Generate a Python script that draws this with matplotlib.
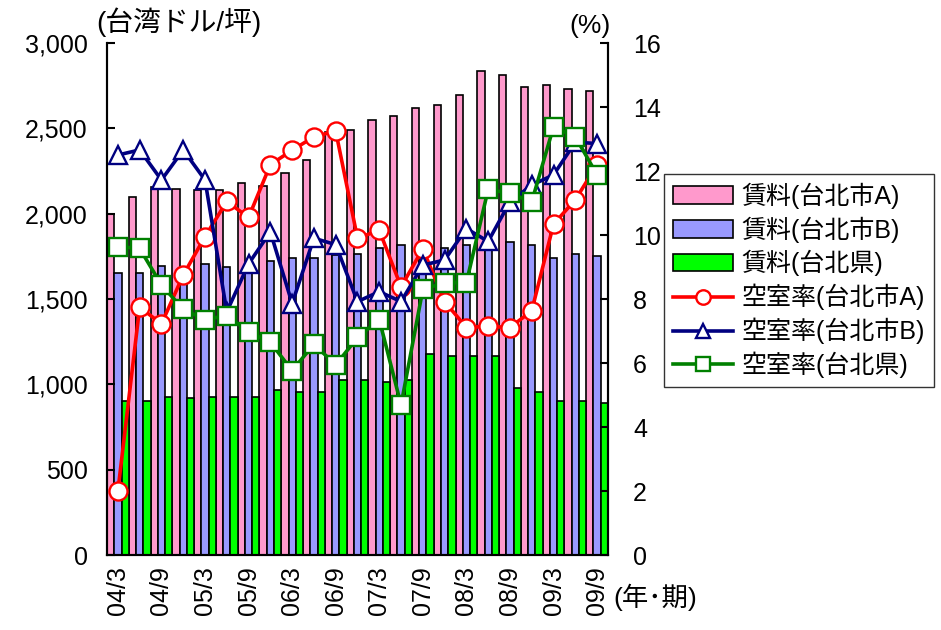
import matplotlib
matplotlib.use("Agg")
import matplotlib.pyplot as plt
import numpy as np

plt.rcParams['font.family'] = ['Liberation Sans', 'Noto Sans CJK JP']

# quarterly periods 2004/3 .. 2009/9
periods = ["04/3", "04/6", "04/9", "04/12", "05/3", "05/6", "05/9", "05/12",
           "06/3", "06/6", "06/9", "06/12", "07/3", "07/6", "07/9", "07/12",
           "08/3", "08/6", "08/9", "08/12", "09/3", "09/6", "09/9"]

# rent (NT$ / ping)
rent_a = [2000, 2100, 2155, 2145, 2140, 2140, 2180, 2165, 2240, 2315, 2480, 2490,
          2550, 2575, 2620, 2635, 2695, 2835, 2815, 2740, 2755, 2730, 2720]
rent_b = [1655, 1655, 1695, 1680, 1705, 1685, 1700, 1720, 1740, 1740, 1760, 1765,
          1800, 1815, 1790, 1800, 1815, 1810, 1835, 1815, 1740, 1765, 1755]
rent_county = [905, 905, 928, 918, 928, 928, 928, 967, 953, 953, 1025, 1025,
               1015, 1025, 1180, 1165, 1165, 1165, 980, 953, 905, 905, 893]

# vacancy rate (%)
vac_a = [2.0, 7.75, 7.22, 8.75, 9.95, 11.05, 10.55, 12.2, 12.65, 13.07, 13.25, 9.9,
         10.15, 8.38, 9.57, 7.92, 7.11, 7.15, 7.11, 7.63, 10.34, 11.1, 12.2]
vac_b = [12.5, 12.66, 11.72, 12.66, 11.72, 7.6, 9.1, 10.1, 7.86, 9.9, 9.7, 7.92,
         8.23, 7.92, 9.06, 9.22, 10.2, 9.8, 11.04, 11.56, 11.88, 12.9, 12.86]
vac_county = [9.64, 9.58, 8.44, 7.68, 7.36, 7.48, 6.98, 6.65, 5.76, 6.59, 5.94, 6.8,
              7.36, 4.69, 8.3, 8.51, 8.51, 11.43, 11.3, 11.04, 13.38, 13.07, 11.88]

x = np.arange(len(periods))
w = 1 / 3

fig = plt.figure(figsize=(9.41, 6.3), dpi=100)
ax = fig.add_axes([0.1137, 0.119, 0.5324, 0.8127])
ax2 = ax.twinx()

bar_kw = dict(width=w, edgecolor="black", linewidth=1.2)
b1 = ax.bar(x - w, rent_a, color="#FF99CC", label="賃料(台北市A)", **bar_kw)
b2 = ax.bar(x, rent_b, color="#9999FF", label="賃料(台北市B)", **bar_kw)
b3 = ax.bar(x + w, rent_county, color="#00FF00", label="賃料(台北県)", **bar_kw)

line_kw = dict(linewidth=2.6, markersize=13, markeredgewidth=1.7, markerfacecolor="white")
l1, = ax2.plot(x, vac_a, color="#FF0000", marker="o", markeredgecolor="#FF0000",
               label="空室率(台北市A)", **line_kw)
l2, = ax2.plot(x, vac_b, color="#000080", marker="^", markeredgecolor="#000080",
               label="空室率(台北市B)", **line_kw)
l3, = ax2.plot(x, vac_county, color="#008000", marker="s", markeredgecolor="#008000",
               label="空室率(台北県)", **line_kw)

ax.set_xlim(-0.5, len(periods) - 0.5)
ax.set_ylim(0, 3000)
ax2.set_ylim(0, 16)
ax.set_yticks(np.arange(0, 3001, 500))
ax.set_yticklabels([f"{v:,}" for v in range(0, 3001, 500)])
ax2.set_yticks(np.arange(0, 17, 2))

ax.set_xticks(x[::2])
ax.set_xticklabels(periods[::2], rotation=90)
ax.tick_params(axis="x", length=0, pad=8, labelsize=18)
ax.tick_params(axis="y", direction="in", length=6, width=1.5, pad=14, labelsize=18)
ax2.tick_params(axis="y", direction="in", length=6, width=1.5, pad=18, labelsize=18)

for a in (ax, ax2):
    a.spines["top"].set_visible(False)
    for s in ("left", "right", "bottom"):
        a.spines[s].set_linewidth(1.5)

fig.text(0.102, 0.965, "(台湾ドル/坪)", fontsize=20, va="center", ha="left")
fig.text(0.649, 0.958, "(%)", fontsize=19, va="center", ha="right")
fig.text(0.652, 0.052, "(年･期)", fontsize=19, va="center", ha="left")

handles = [b1, b2, b3, l1, l2, l3]
leg = fig.legend(handles, [h.get_label() for h in handles],
                 loc="upper left", bbox_to_anchor=(0.706, 0.724),
                 fontsize=18, frameon=True, fancybox=False, edgecolor="black",
                 handlelength=2.4, labelspacing=0.3, handletextpad=0.35,
                 borderpad=0.35, borderaxespad=0.0, markerscale=0.8)
leg.get_frame().set_linewidth(1.0)

fig.savefig("out.png", dpi=100)
